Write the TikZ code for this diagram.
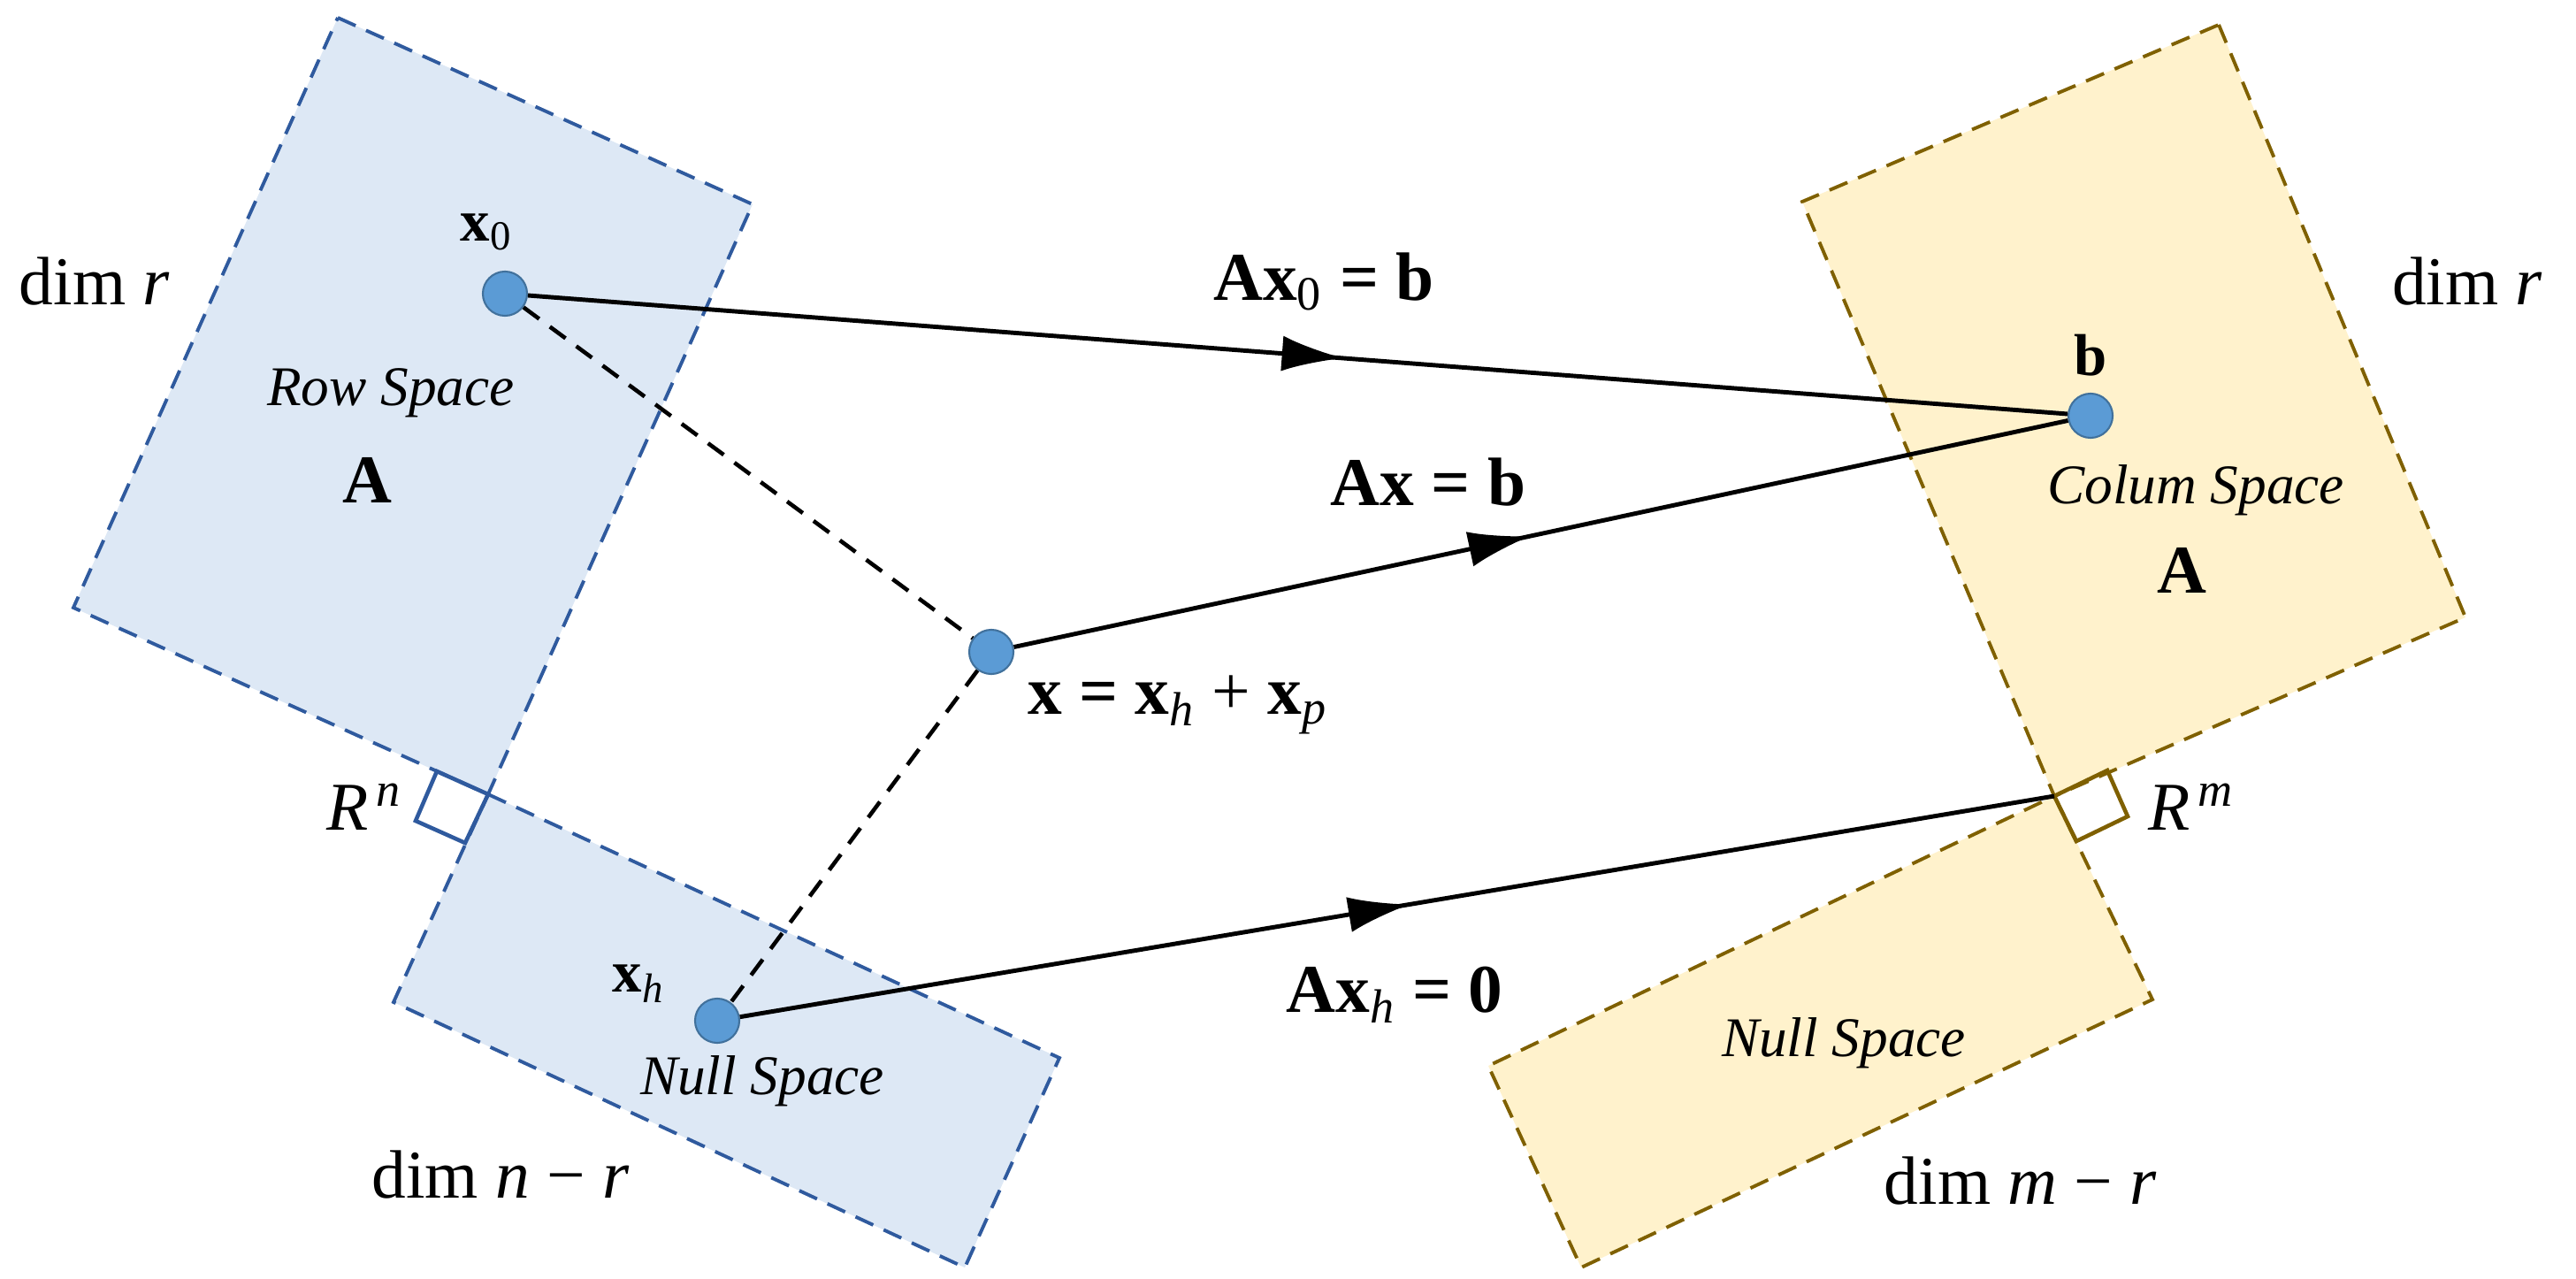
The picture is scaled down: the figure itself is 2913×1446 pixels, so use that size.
\documentclass[tikz,border=0pt]{standalone}
\usepackage{fontspec}
\setmainfont{Liberation Serif}
\usetikzlibrary{arrows.meta,decorations.markings}
\definecolor{bfill}{HTML}{DDE8F5}
\definecolor{bline}{HTML}{2F5A9E}
\definecolor{yfill}{HTML}{FFF2CC}
\definecolor{yline}{HTML}{7F6000}
\definecolor{dotf}{HTML}{5B9BD5}
\definecolor{dotl}{HTML}{41719C}
\newcommand{\fs}[1]{\fontsize{#1}{#1}\selectfont}
\begin{document}
\begin{tikzpicture}[x=0.01cm,y=-0.01cm,
  bsp/.style={fill=bfill,draw=bline,line width=1.1pt,dash pattern=on 0.22cm off 0.13cm},
  ysp/.style={fill=yfill,draw=yline,line width=1.1pt,dash pattern=on 0.22cm off 0.13cm},
  dot/.style={circle,fill=dotf,draw=dotl,line width=0.6pt,minimum size=0.5cm,inner sep=0pt},
  conn/.style={line width=1.4pt,black},
  dconn/.style={line width=1.3pt,black,dash pattern=on 0.22cm off 0.15cm},
  mid/.style={postaction={decorate},decoration={markings,mark=at position #1 with {\arrow{Latex[length=0.7cm,width=0.4cm]}}}},
  big/.style={font=\fs{22pt}},
  ital/.style={font=\fs{18pt}\itshape},
  small/.style={font=\fs{19pt}}]
\useasboundingbox (0,0) rectangle (2913,1446);
% left spaces
\draw[bsp] (382,20) -- (851,231) -- (552,898) -- (83,687) -- cycle;
\draw[bsp] (552,898) -- (1198,1196) -- (1091,1433) -- (445,1133) -- cycle;
\draw[bline,line width=1.3pt] (552,898) -- (494,872) -- (470,928) -- (526,953) -- cycle;
% right spaces
\draw[ysp] (2509,28) -- (2788,698) -- (2323,900) -- (2038,228) -- cycle;
\draw[ysp] (2323,900) -- (2434,1130) -- (1788,1433) -- (1683,1205) -- cycle;
\draw[yline,line width=1.3pt] (2323,900) -- (2383,871) -- (2406,923) -- (2348,951) -- cycle;
\coordinate (J2) at (2323,900);
% points
\node[dot] (x0) at (571,332) {};
\node[dot] (x) at (1121,737) {};
\node[dot] (xh) at (811,1154) {};
\node[dot] (b) at (2364,470) {};
% connectors
\draw[dconn] (x0) -- (x);
\draw[dconn] (x) -- (xh);
\draw[conn,mid=0.53] (x0) -- (b);
\draw[conn,mid=0.49] (x) -- (b);
\draw[conn,mid=0.51] (xh) -- (J2);
% labels
\node[big] (l1) at (107,318) {dim \textit{r}};
\node[big] (l2) at (2790,318) {dim \textit{r}};
\node[big] (l3) at (566,1328) {dim \textit{n} − \textit{r}};
\node[big] (l4) at (2285,1335) {dim \textit{m} − \textit{r}};
\node[big] (l5) at (412,912) {\textit{R}\textsuperscript{\,\textit{n}}};
\node[big] (l6) at (2478,912) {\textit{R}\textsuperscript{\,\textit{m}}};
\node[ital] (rs) at (442,444) {Row Space};
\node[big] (ra) at (415,543) {\textbf{A}};
\node[ital] (cs) at (2483,554) {Colum Space};
\node[big] (ca) at (2467,645) {\textbf{A}};
\node[ital] (ns1) at (862,1222) {Null Space};
\node[ital] (ns2) at (2085,1179) {Null Space};
\node[small] (lx0) at (550,262) {\textbf{x}\textsubscript{0}};
\node[small] (lxh) at (722,1112) {\textbf{x}\textsubscript{\textit{h}}};
\node[small] (lb) at (2364,402) {\textbf{b}};
\node[big] (e1) at (1497,318) {\textbf{Ax}\textsubscript{0} \textbf{= b}};
\node[big] (e2) at (1615,545) {\textbf{Ax = b}};
\node[big,anchor=west] (e3) at (1150,797) {\textbf{x = x}\textsubscript{\textit{h}} + \textbf{x}\textsubscript{\textit{p}}};
\node[big] (e4) at (1577,1125) {\textbf{Ax}\textsubscript{\textit{h}} \textbf{= 0}};
\end{tikzpicture}
\end{document}
